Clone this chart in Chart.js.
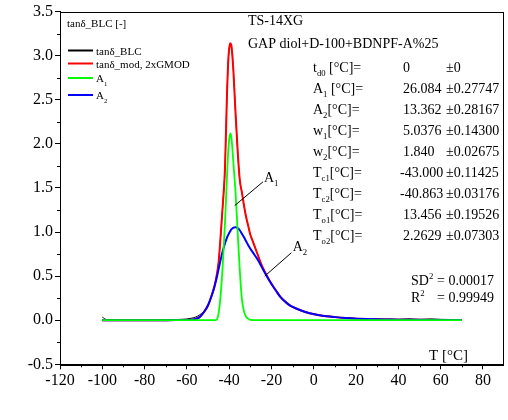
<!DOCTYPE html>
<html><head><meta charset="utf-8">
<script src="https://cdn.jsdelivr.net/npm/chart.js@4/dist/chart.umd.min.js"></script>
<style>html,body{margin:0;padding:0;background:#fff;}canvas{display:block;}</style>
</head><body>
<canvas id="c" width="508" height="420"></canvas>
<script>
const temps  = [-100,-98,-90,-80,-70,-65,-60,-58,-56,-54,-52,-50,-48,-47,-46,-45,-44,-43,-42,-41,-40.5,-40,-39.5,-39,-38.5,-38,-37,-36,-35,-34,-33,-32,-31,-30,-29,-28,-27,-26,-25,-24,-22,-20,-18,-16,-14,-12,-10,-6,-2,2,6,10,15,20,25,30,35,40,45,50,55,60,65,70];
const tanBLC = [0.035,0.008,0.004,0.004,0.005,0.008,0.014,0.022,0.035,0.06,0.1,0.17,0.3,0.38,0.5,0.66,0.97,1.32,1.72,2.6,2.92,3.08,3.14,3.12,3.0,2.82,2.35,1.92,1.59,1.45,1.3,1.17,1.07,0.97,0.905,0.84,0.775,0.71,0.645,0.59,0.495,0.41,0.34,0.27,0.22,0.18,0.15,0.11,0.08,0.06,0.045,0.035,0.025,0.02,0.015,0.012,0.012,0.01,0.016,0.008,0.015,0.01,0.008,0.006];
const tanMod = [0,0,0,0,0,0.001,0.003,0.006,0.015,0.035,0.09,0.17,0.3,0.38,0.5,0.66,0.97,1.32,1.72,2.6,2.92,3.08,3.14,3.12,3.0,2.82,2.35,1.92,1.59,1.45,1.3,1.17,1.07,0.97,0.905,0.84,0.775,0.71,0.645,0.59,0.495,0.41,0.34,0.27,0.22,0.18,0.15,0.11,0.08,0.06,0.045,0.035,0.025,0.018,0.013,0.01,0.008,0.006,0.005,0.004,0.003,0.002,0.002,0.001];
const peakA1 = [0,0,0,0,0,0,0,0,0,0,0,0,0,0,0.005,0.08,0.3,0.65,1.1,1.65,1.9,2.05,2.12,2.08,1.95,1.78,1.45,1.0,0.57,0.24,0.1,0.04,0.015,0.005,0,0,0,0,0,0,0,0,0,0,0,0,0,0,0,0,0,0,0,0,0,0,0,0,0,0,0,0,0,0];
const peakA2 = [0,0,0,0,0,0.001,0.003,0.006,0.015,0.035,0.09,0.17,0.3,0.38,0.47,0.58,0.69,0.79,0.87,0.94,0.965,0.99,1.01,1.03,1.04,1.05,1.055,1.045,1.02,0.98,0.94,0.895,0.85,0.81,0.775,0.74,0.705,0.665,0.62,0.575,0.49,0.41,0.34,0.27,0.22,0.18,0.15,0.11,0.08,0.06,0.045,0.035,0.025,0.018,0.013,0.01,0.008,0.006,0.005,0.004,0.003,0.002,0.002,0.001];
const xTicks = [-120,-100,-80,-60,-40,-20,0,20,40,60,80];
const yTicks = [-0.5,0,0.5,1,1.5,2,2.5,3,3.5];
const seriesNames = ['tanδ_BLC','tanδ_mod, 2xGMOD','A','A'];
const seriesSubs  = ['','','1','2'];
const paramSymbols = ['t','A','A','w','w','T','T','T','T'];
const paramSubs    = ['d0','1','2','1','2','c1','c2','o1','o2'];
const paramUnits   = [' [°C]=',' [°C]=','[°C]=','[°C]=','[°C]=','[°C]=','[°C]=','[°C]=','[°C]='];
const paramValues  = ['0','26.084','13.362','5.0376','1.840','-43.000','-40.863','13.456','2.2629'];
const paramErrors  = ['±0','±0.27747','±0.28167','±0.14300','±0.02675','±0.11425','±0.03176','±0.19526','±0.07303'];
const fitStats = [['SD','2','= 0.00017'],['R','2','= 0.99949']];

const FONT = "'Liberation Serif','Times New Roman',serif";
function pts(arr){ return temps.map((t,i)=>({x:t,y:arr[i]})); }

function rich(ctx, x, y, parts, size){
  for (const [t,m] of parts){
    const fs = m==='n' ? size : size*0.62;
    const dy = m==='sub' ? size*0.32 : (m==='sup' ? -size*0.42 : 0);
    ctx.font = fs+'px '+FONT;
    ctx.fillText(t, x, y+dy);
    x += ctx.measureText(t).width;
  }
  return x;
}

const decor = {
  id:'decor',
  afterDatasetsDraw(chart){
    const ctx = chart.ctx, a = chart.chartArea, xs = chart.scales.x, ys = chart.scales.y;
    ctx.save();
    ctx.strokeStyle = '#000'; ctx.lineWidth = 1;
    ctx.strokeRect(Math.round(a.left)+0.5, Math.round(a.top)+0.5, Math.round(a.right-a.left), Math.round(a.bottom-a.top));
    ctx.beginPath();
    for (let v=-110; v<=70; v+=20){ const px=Math.round(xs.getPixelForValue(v))+0.5; ctx.moveTo(px,a.bottom); ctx.lineTo(px,a.bottom+3); }
    for (let v=-0.25; v<3.5; v+=0.5){ const py=Math.round(ys.getPixelForValue(v))+0.5; ctx.moveTo(a.left,py); ctx.lineTo(a.left-3,py); }
    ctx.stroke();
    ctx.fillStyle = '#000'; ctx.textBaseline = 'alphabetic'; ctx.textAlign='left';
    rich(ctx, 67, 27, [['tanδ_BLC [-]','n']], 11);
    const ly = [50.5, 63.5, 78, 95];
    chart.data.datasets.forEach((d,i)=>{
      ctx.strokeStyle = d.borderColor; ctx.lineWidth = 2;
      ctx.beginPath(); ctx.moveTo(68, ly[i]); ctx.lineTo(93, ly[i]); ctx.stroke();
      const parts = [[seriesNames[i],'n']]; if (seriesSubs[i]) parts.push([seriesSubs[i],'sub']);
      rich(ctx, 96, ly[i]+4, parts, 11);
    });
    rich(ctx, 248, 25, [['TS-14XG','n']], 14);
    rich(ctx, 248, 48, [['GAP diol+D-100+BDNPF-A%25','n']], 14);
    for (let i=0;i<paramSymbols.length;i++){
      const y = 72 + i*21;
      rich(ctx, 313, y, [[paramSymbols[i],'n'],[paramSubs[i],'sub'],[paramUnits[i],'n']], 14);
      const vx = paramValues[i].startsWith('-') ? 400 : 403;
      rich(ctx, vx, y, [[paramValues[i],'n']], 14);
      rich(ctx, 446, y, [[paramErrors[i],'n']], 14);
    }
    fitStats.forEach((s,i)=>{
      const y = 285 + i*17;
      rich(ctx, 411, y, [[s[0],'n'],[s[1],'sup']], 14);
      rich(ctx, 437, y, [[s[2],'n']], 14);
    });
    rich(ctx, 429, 360, [['T [°C]','n']], 15);
    ctx.strokeStyle='#000'; ctx.lineWidth=1;
    ctx.beginPath();
    ctx.moveTo(xs.getPixelForValue(-24.0), ys.getPixelForValue(1.57));
    ctx.lineTo(xs.getPixelForValue(-37.4), ys.getPixelForValue(1.30));
    ctx.moveTo(xs.getPixelForValue(-10.6), ys.getPixelForValue(0.765));
    ctx.lineTo(xs.getPixelForValue(-23.2), ys.getPixelForValue(0.50));
    ctx.stroke();
    rich(ctx, xs.getPixelForValue(-23.6), ys.getPixelForValue(1.57), [['A','n'],['1','sub']], 14);
    rich(ctx, xs.getPixelForValue(-10.0), ys.getPixelForValue(0.765)-2, [['A','n'],['2','sub']], 14);
    ctx.restore();
  }
};

new Chart(document.getElementById('c').getContext('2d'), {
  type:'line',
  data:{datasets:[
    {label:'tanδ_BLC', data:pts(tanBLC), borderColor:'#000000', borderWidth:1, order:3},
    {label:'tanδ_mod, 2xGMOD', data:pts(tanMod), borderColor:'#ff0000', borderWidth:2, order:2},
    {label:'A1', data:pts(peakA1), borderColor:'#00ff00', borderWidth:1.8, order:0},
    {label:'A2', data:pts(peakA2), borderColor:'#0000ff', borderWidth:2, order:1}
  ]},
  options:{
    responsive:false, animation:false,
    elements:{point:{radius:0}, line:{cubicInterpolationMode:'monotone', fill:false}},
    layout:{padding:{left:0,right:4.7,top:10.7,bottom:0}},
    plugins:{legend:{display:false}, tooltip:{enabled:false}},
    scales:{
      x:{type:'linear', min:-120, max:89.6,
        afterBuildTicks:s=>{ s.ticks = xTicks.map(v=>({value:v})); },
        afterFit:s=>{ s.height = 55.7; },
        ticks:{font:{family:FONT,size:16}, color:'#000', padding:2, maxRotation:0, autoSkip:false, callback:v=>String(v)},
        grid:{drawOnChartArea:false, drawTicks:true, tickLength:5, color:'#000'},
        border:{display:true, color:'#000', width:1}},
      y:{type:'linear', min:-0.5, max:3.5,
        afterBuildTicks:s=>{ s.ticks = yTicks.map(v=>({value:v})); },
        afterFit:s=>{ s.width = 60; },
        ticks:{font:{family:FONT,size:16}, color:'#000', padding:2, autoSkip:false, callback:v=>Number(v).toFixed(1)},
        grid:{drawOnChartArea:false, drawTicks:true, tickLength:5, color:'#000'},
        border:{display:true, color:'#000', width:1}}
    }
  },
  plugins:[decor]
});
</script>
</body></html>
